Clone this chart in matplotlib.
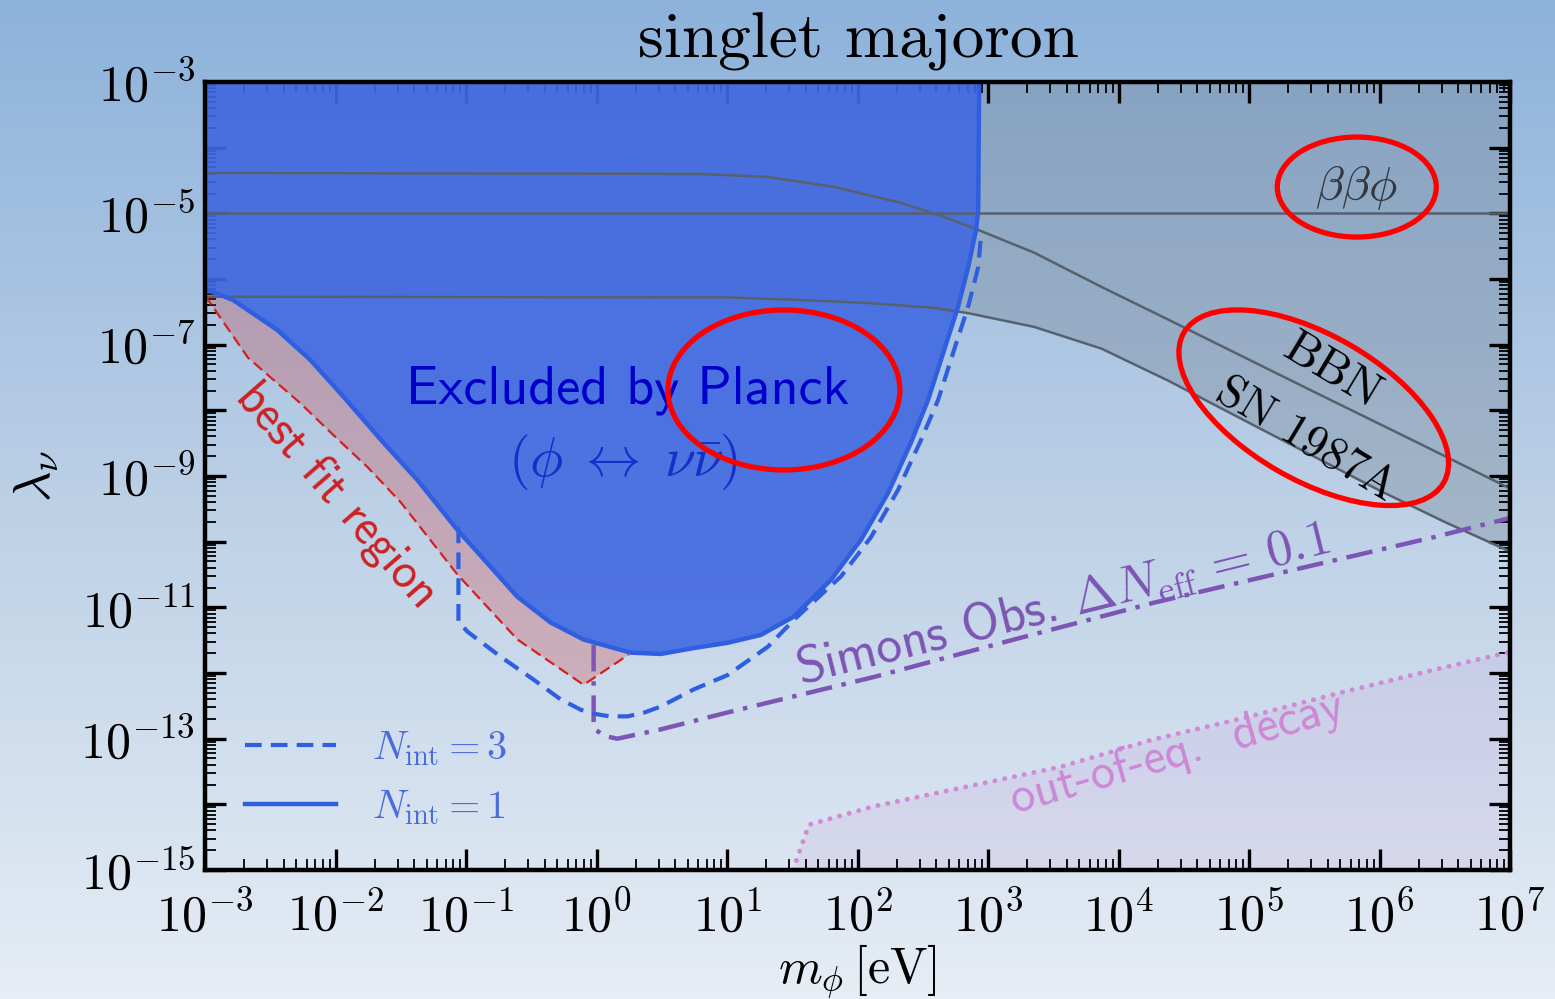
import numpy as np
import matplotlib.pyplot as plt
import matplotlib.transforms as mtransforms
from matplotlib.patches import Ellipse
from matplotlib.colors import LinearSegmentedColormap
from matplotlib.ticker import LogLocator, FuncFormatter, NullFormatter

plt.rcParams["mathtext.fontset"] = "cm"

# values, as log10(m / eV) and log10(lambda)
planck_logm = [-3.0, -2.785, -2.447, -2.194, -1.94, -1.634, -1.373, -1.066, -0.813, -0.606,
               -0.352, -0.099, 0.262, 0.492, 0.745, 1.006, 1.259, 1.513, 1.797, 2.027,
               2.234, 2.41, 2.541, 2.664, 2.771, 2.848, 2.909, 2.925, 2.932]
planck_logl = [-6.15, -6.32, -6.775, -7.23, -7.79, -8.49, -9.06, -9.82, -10.38, -10.84,
               -11.23, -11.49, -11.69, -11.71, -11.62, -11.54, -11.42, -11.14, -10.58, -9.97,
               -9.26, -8.49, -7.84, -7.08, -6.42, -5.82, -5.25, -4.95, -3.0]

nint3_logm = [-1.058, -1.058, -0.989, -0.736, -0.483, -0.276, -0.12, -0.022, 0.1, 0.239,
              0.37, 0.492, 0.745, 1.006, 1.313, 1.513, 1.873, 2.104, 2.311, 2.487, 2.618,
              2.74, 2.848, 2.925, 2.948]
nint3_logl = [-9.77, -11.22, -11.37, -11.75, -12.10, -12.40, -12.56, -12.62, -12.66, -12.66,
              -12.60, -12.51, -12.25, -12.03, -11.60, -11.19, -10.53, -9.93, -9.21, -8.45,
              -7.84, -7.08, -6.42, -5.82, -5.30]

bestfit_logm = [-3.0, -2.67, -2.27, -2.02, -1.757, -1.50, -1.066, -0.606, -0.099, 0.246]
bestfit_logl = [-6.25, -7.20, -7.89, -8.37, -8.86, -9.40, -10.50, -11.49, -12.18, -11.72]

simons_logm = [-0.022, -0.022, 0.06, 0.16, 0.49, 1.006, 2.127, 3.20, 4.27, 5.34, 6.42, 7.0]
simons_logl = [-11.57, -12.84, -12.96, -13.0, -12.86, -12.60, -12.06, -11.49, -10.93,
               -10.43, -9.93, -9.64]

ooe_logm = [1.505, 1.628, 2.127, 2.84, 3.554, 4.27, 4.99, 5.70, 6.42, 7.0]
ooe_logl = [-15.0, -14.31, -14.03, -13.73, -13.43, -13.01, -12.67, -12.30, -11.95, -11.68]

bbn_logm = [-3.0, 0.799, 1.313, 1.82, 2.334, 2.664, 2.925, 3.355, 3.869, 4.383, 4.636, 5.5,
            6.3, 7.0]
bbn_logl = [-4.385, -4.40, -4.446, -4.598, -4.84, -5.055, -5.253, -5.60, -6.12, -6.62,
            -6.87, -7.72, -8.50, -9.19]

sn_logm = [-3.0, 1.0, 1.566, 2.08, 2.587, 2.848, 3.355, 3.869, 4.383, 5.0, 6.0, 6.5, 7.0]
sn_logl = [-6.27, -6.28, -6.32, -6.365, -6.44, -6.52, -6.73, -7.06, -7.55, -8.19, -9.22,
           -9.70, -10.15]

bbphi_log = -5.0

m_planck, l_planck = 10 ** np.array(planck_logm), 10 ** np.array(planck_logl)
m_n3, l_n3 = 10 ** np.array(nint3_logm), 10 ** np.array(nint3_logl)
m_bf, l_bf = 10 ** np.array(bestfit_logm), 10 ** np.array(bestfit_logl)
m_so, l_so = 10 ** np.array(simons_logm), 10 ** np.array(simons_logl)
m_ooe, l_ooe = 10 ** np.array(ooe_logm), 10 ** np.array(ooe_logl)
m_bbn, l_bbn = 10 ** np.array(bbn_logm), 10 ** np.array(bbn_logl)
m_sn, l_sn = 10 ** np.array(sn_logm), 10 ** np.array(sn_logl)

fig = plt.figure(figsize=(15.55, 9.99), dpi=100)

# gradient background behind everything
bg = fig.add_axes([0, 0, 1, 1], zorder=-10)
cmap = LinearSegmentedColormap.from_list("bg", ["#8db2db", "#bcd0e6", "#e6edf5"])
bg.imshow(np.linspace(0, 1, 256).reshape(-1, 1), aspect="auto", cmap=cmap,
          extent=[0, 1, 0, 1], origin="upper")
bg.axis("off")

ax = fig.add_axes([205 / 1555, 129 / 999, 1305 / 1555, 788 / 999], zorder=1)
ax.set_facecolor("none")
ax.set_xscale("log")
ax.set_yscale("log")
ax.set_xlim(1e-3, 1e7)
ax.set_ylim(1e-15, 1e-3)

# grey astrophysical region
ax.fill_between(m_sn, l_sn, 1e-3, color="#6e7d8c", alpha=0.33, lw=0, zorder=1)

# Planck excluded region
ax.fill_between(m_planck, l_planck, 1e-3, color="#4169e1", alpha=0.9, lw=0, zorder=2)

# best fit region between red dashed and Planck edge
keep = np.array(planck_logm) <= 0.27
poly_m = np.concatenate([m_bf, m_planck[keep][::-1]])
poly_l = np.concatenate([l_bf, l_planck[keep][::-1]])
ax.fill(poly_m, poly_l, color="#d42a2a", alpha=0.25, lw=0, zorder=2.5)
ax.plot(m_bf, l_bf, color="#d42020", lw=1.6, ls=(0, (5, 2.5)), zorder=4)

# out-of-equilibrium decay region
ax.fill_between(m_ooe, 1e-15, l_ooe, color="#c080d0", alpha=0.13, lw=0, zorder=1.5)
ax.plot(m_ooe, l_ooe, color="#d08ad6", lw=3.5, ls=(0, (0.05, 2.0)),
        dash_capstyle="round", zorder=4)

# grey bound lines
ax.plot(m_bbn, l_bbn, color="#56616e", lw=1.8, zorder=3)
ax.plot(m_sn, l_sn, color="#56616e", lw=1.8, zorder=3)
ax.axhline(10 ** bbphi_log, color="#56616e", lw=1.8, zorder=3)

# Simons Observatory projection
ax.plot(m_so, l_so, color="#7d55b4", lw=3.2, ls=(0, (6, 2.2, 1, 2.2)), zorder=4)

# Planck edges
solid, = ax.plot(m_planck, l_planck, color="#2f5fe0", lw=3.2, zorder=4.5,
                 label=r"$N_{\rm int} = 1$")
dashed, = ax.plot(m_n3, l_n3, color="#2f5fe0", lw=3.0, ls=(0, (4, 2.2)), zorder=4.5,
                  label=r"$N_{\rm int} = 3$")

# axes styling
ax.xaxis.set_major_locator(LogLocator(base=10, numticks=30))
ax.xaxis.set_minor_locator(LogLocator(base=10, subs=np.arange(2, 10), numticks=30))
ax.yaxis.set_major_locator(LogLocator(base=10, numticks=30))
ax.yaxis.set_minor_locator(LogLocator(base=10, subs=np.arange(2, 10), numticks=30))
ax.xaxis.set_minor_formatter(NullFormatter())
ax.yaxis.set_minor_formatter(NullFormatter())
ax.xaxis.set_major_formatter(FuncFormatter(lambda v, p: r"$10^{%d}$" % round(np.log10(v))))


def ylab(v, p):
    e = round(np.log10(v))
    return r"$10^{%d}$" % e if e % 2 else ""


ax.yaxis.set_major_formatter(FuncFormatter(ylab))
ax.tick_params(which="both", direction="in", top=True, right=True, labelsize=36)
ax.tick_params(axis="x", which="major", pad=16)
ax.tick_params(axis="y", which="major", pad=7)
ax.tick_params(which="major", length=15, width=2.4)
ax.tick_params(which="minor", length=8, width=1.3)
for s in ax.spines.values():
    s.set_linewidth(3.2)
    s.set_zorder(5)

ax.set_xlabel(r"$m_\phi\,[\mathrm{eV}]$", fontsize=36)
ax.xaxis.set_label_coords(0.5, -0.092)
ax.set_ylabel(r"$\lambda_\nu$", fontsize=38)
ax.yaxis.set_label_coords(-0.11, 0.5)

fig.text(858 / 1555, 1 - 42 / 999, "singlet majoron", fontfamily="cmr10", fontsize=47,
         ha="center", va="center")

# annotations
ax.text(10 ** 0.239, 10 ** -7.69, "Excluded by Planck", fontfamily="cmss10", fontsize=39,
        color="#0000cd", ha="center", va="center", zorder=5)
ax.text(10 ** 0.20, 10 ** -8.78, r"$(\phi \;\leftrightarrow\; \nu\bar{\nu})$", fontsize=40,
        color="#1530c8", ha="center", va="center", zorder=5)
ax.text(10 ** -2.0, 10 ** -9.31, "best fit region", fontfamily="cmss10", fontsize=35,
        color="#cc2222", rotation=-49, rotation_mode="anchor", ha="center", va="center",
        zorder=5)
ax.text(10 ** 3.60, 10 ** -11.16, r"Simons Obs. $\Delta N_{\rm eff} \,=\, 0.1$",
        fontfamily="cmss10", fontsize=37, color="#7d55b4", rotation=14,
        rotation_mode="anchor", ha="center", va="baseline", zorder=5)
ax.text(10 ** 4.475, 10 ** -13.43, "out-of-eq.  decay", fontfamily="cmss10", fontsize=35,
        color="#cc88d4", rotation=16, rotation_mode="anchor", ha="center",
        va="baseline", zorder=5)
ax.text(10 ** 5.826, 10 ** -4.60, r"$\beta\beta\phi$", fontsize=34, color="#333840",
        ha="center", va="center", zorder=5)
ax.text(10 ** 5.634, 10 ** -7.41, "BBN", fontfamily="cmr10", fontsize=35, color="black",
        rotation=-31, rotation_mode="anchor", ha="center", va="center", zorder=5)
ax.text(10 ** 5.44, 10 ** -8.45, "SN 1987A", fontfamily="cmr10", fontsize=33,
        color="black", rotation=-31, rotation_mode="anchor", ha="center", va="center",
        zorder=5)

# red highlight rings (centre in data units, size in inches)
rings = [(5.826, -4.60, 1.59, 1.0, 0), (1.436, -7.69, 2.32, 1.6, 0),
         (5.496, -7.96, 3.0, 1.45, -30)]
for lm, ll, w, h, ang in rings:
    tr = fig.dpi_scale_trans + mtransforms.ScaledTranslation(10 ** lm, 10 ** ll, ax.transData)
    ax.add_patch(Ellipse((0, 0), w, h, angle=ang, fill=False, ec="red", lw=3.8,
                         transform=tr, clip_on=False, zorder=6))

ax.legend(handles=[dashed, solid], loc="lower left", bbox_to_anchor=(0.0307, 0.055),
          frameon=False, fontsize=29, labelcolor="#4a6cdc", handlelength=2.25,
          handletextpad=0.9, labelspacing=0.45, borderpad=0, borderaxespad=0)

fig.savefig("out.png", dpi=100)
